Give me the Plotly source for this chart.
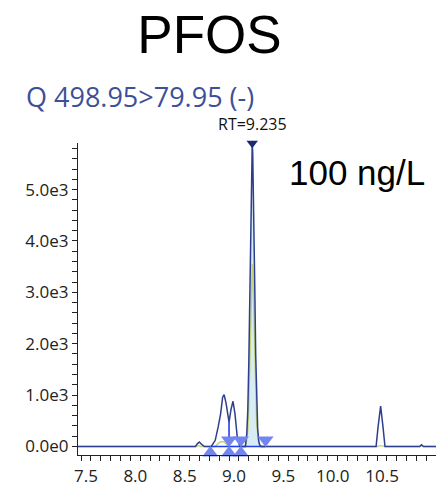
import plotly.graph_objects as go

# Quantifier transition (498.95 > 79.95), retention time vs. intensity
quant_time = [7.47, 8.66, 8.68, 8.70, 8.72, 8.75, 8.82, 8.86, 8.89, 8.915, 8.935, 8.95,
              8.97, 8.99, 9.00, 9.02, 9.04, 9.06, 9.085, 9.11, 9.165, 9.18, 9.19, 9.20,
              9.21, 9.22, 9.23, 9.235, 9.24, 9.25, 9.26, 9.27, 9.28, 9.29, 9.30, 9.31,
              9.325, 10.49, 10.51, 10.536, 10.56, 10.58, 10.93, 10.95, 10.97, 11.10]
quant_intensity = [0, 0, 55, 85, 45, 0, 0, 120, 380, 640, 960, 1010,
                   840, 545, 474, 720, 880, 640, 150, 0, 0, 250, 700, 1600,
                   3000, 4500, 5650, 5900, 5700, 4700, 3200, 1800, 850, 350, 120, 30,
                   0, 0, 380, 786, 380, 0, 0, 35, 0, 0]

# Qualifier transition
qual_time = [7.47, 8.67, 8.69, 8.71, 8.86, 8.89, 8.92, 8.95, 8.98, 9.00, 9.17, 9.19,
             9.20, 9.21, 9.22, 9.23, 9.235, 9.24, 9.25, 9.26, 9.27, 9.28, 9.30, 9.32,
             10.50, 10.52, 10.56, 10.58, 10.94, 10.95, 10.97, 11.10]
qual_intensity = [0, 0, 20, 0, 0, 60, 95, 90, 30, 0, 0, 300,
                  800, 1700, 2700, 3400, 3550, 3450, 2800, 1900, 1000, 450, 80, 0,
                  0, 12, 12, 0, 0, 15, 0, 0]

# Integrated peak window and integration markers
area_start, area_end = 9.165, 9.325
baseline_start, baseline_end = 8.81, 9.37
drop_time, drop_height = 9.00, 474
start_marks = [8.81, 9.00, 9.12]
end_marks = [9.00, 9.12, 9.37]
apex_time, apex_height = 9.235, 5900

y_ticks = [0, 1000, 2000, 3000, 4000, 5000]
y_tick_text = ["0.0e0", "1.0e3", "2.0e3", "3.0e3", "4.0e3", "5.0e3"]
x_ticks = [7.5, 8.0, 8.5, 9.0, 9.5, 10.0, 10.5]
x_tick_text = ["7.5", "8.0", "8.5", "9.0", "9.5", "10.0", "10.5"]

NAVY = "#2d3f8e"
GREEN = "#c3d272"
FILL = "#d7ecf3"
INTEG = "#2140f0"
MARK = "#7385ee"
MARK_OFFSET = 125  # half a triangle height, in intensity units

area_t = [t for t in quant_time if area_start <= t <= area_end]
area_i = [quant_intensity[quant_time.index(t)] for t in area_t]

fig = go.Figure()
fig.add_trace(go.Scatter(x=area_t, y=area_i, mode="lines", fill="tozeroy",
                         fillcolor=FILL, line=dict(width=0), hoverinfo="skip"))
fig.add_trace(go.Scatter(x=qual_time, y=qual_intensity, mode="lines",
                         line=dict(color=GREEN, width=1.4)))
fig.add_trace(go.Scatter(x=[baseline_start, baseline_end, None, drop_time, drop_time],
                         y=[0, 0, None, 0, drop_height], mode="lines",
                         line=dict(color=INTEG, width=1.6)))
fig.add_trace(go.Scatter(x=quant_time, y=quant_intensity, mode="lines",
                         line=dict(color=NAVY, width=1.5)))
fig.add_trace(go.Scatter(x=start_marks, y=[-MARK_OFFSET] * len(start_marks), mode="markers",
                         marker=dict(symbol="triangle-up", size=14, color=MARK,
                                     line=dict(width=0)),
                         cliponaxis=False))
fig.add_trace(go.Scatter(x=end_marks, y=[MARK_OFFSET] * len(end_marks), mode="markers",
                         marker=dict(symbol="triangle-down", size=14, color=MARK,
                                     line=dict(width=0)),
                         cliponaxis=False))
fig.add_trace(go.Scatter(x=[apex_time], y=[apex_height], mode="markers",
                         marker=dict(symbol="triangle-down", size=10, color="#1c2b6e"),
                         cliponaxis=False))

fig.add_annotation(x=apex_time, y=apex_height, text=f"RT={apex_time}", showarrow=False,
                   yshift=19, font=dict(family="Open Sans", size=16, color="#111111"))
fig.add_annotation(xref="paper", yref="paper", x=(287 - 78) / 358, y=(455 - 172) / 312,
                   text="100 ng/L", showarrow=False, xanchor="left", yanchor="middle",
                   font=dict(family="Liberation Sans", size=35, color="#000000"))

fig.update_layout(
    width=436, height=486,
    margin=dict(l=78, r=0, t=143, b=31),
    paper_bgcolor="white", plot_bgcolor="white",
    showlegend=False,
    title=dict(text="PFOS", x=209.5 / 436, xanchor="center", y=1 - 34 / 486,
               yanchor="middle", font=dict(family="Liberation Sans", size=53, color="#000")),
)
fig.add_annotation(xref="paper", yref="paper", x=(24 - 78) / 358, y=1 + (143 - 96) / 312,
                   text="Q 498.95>79.95 (-)", showarrow=False, xanchor="left", yanchor="middle",
                   font=dict(family="Open Sans", size=27, color="#3d4f98"))

fig.update_xaxes(range=[7.4696, 11.097], tickvals=x_ticks, ticktext=x_tick_text,
                 ticks="outside", ticklen=5, tickcolor="#222", showline=True,
                 linecolor="#222", linewidth=1.2, showgrid=False, zeroline=False,
                 ticklabelshift=5,
                 minor=dict(dtick=0.1, tick0=7.5, ticks="outside", ticklen=5, tickcolor="#222"),
                 tickfont=dict(family="Open Sans", size=17, color="#222"))
fig.update_yaxes(range=[-166, 5906], tickvals=y_ticks, ticktext=y_tick_text,
                 ticks="outside", ticklen=5, tickcolor="#222", showline=True,
                 linecolor="#222", linewidth=1.2, showgrid=False, zeroline=False,
                 minor=dict(dtick=200, tick0=0, ticks="outside", ticklen=5, tickcolor="#222"),
                 tickfont=dict(family="Open Sans", size=17, color="#222"))

fig.write_html("out.html")
